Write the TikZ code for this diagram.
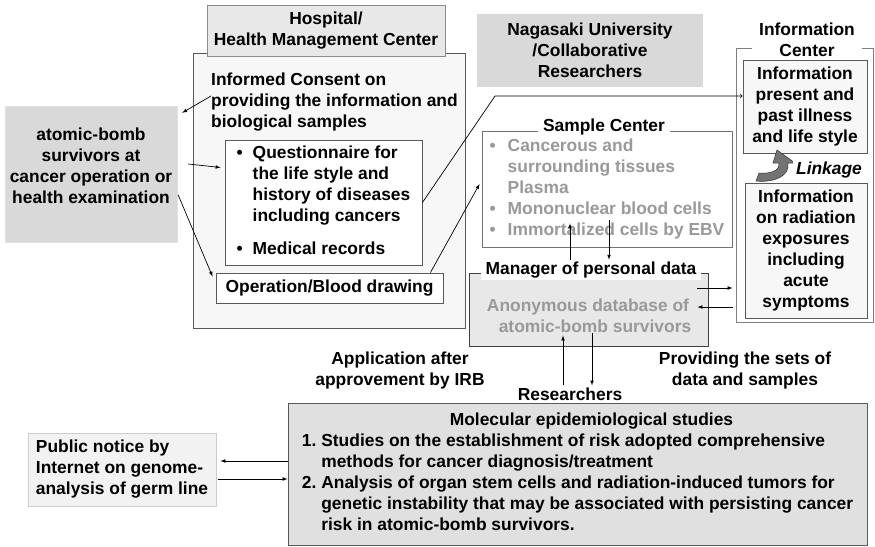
\documentclass[tikz,border=0pt]{standalone}
\usepackage{fontspec}
\setmainfont{Liberation Sans}
\usepackage{xcolor}
\usepackage{tikz}
\usetikzlibrary{arrows}
\definecolor{lightbox}{HTML}{F7F7F7}
\definecolor{midbox}{HTML}{E8E8E8}
\definecolor{darkbox}{HTML}{D9D9D9}
\definecolor{studybox}{HTML}{E0E0E0}
\definecolor{graytext}{HTML}{999999}
\def\fs{\fontsize{17.4}{21}\selectfont\bfseries}
\def\bul{\textbullet}

\tikzset{
  box/.style={draw=black!65,line width=0.9pt,inner sep=0pt},
  lbl/.style={fill=white,inner xsep=5pt,inner ysep=2pt},
  con/.style={-latex,line width=0.7pt}
}

\begin{document}
\begin{tikzpicture}[x=1pt,y=-1pt,font=\fs]
\useasboundingbox (0,0) rectangle (875,546);

\draw[] (329,190.5) node[box,fill=lightbox,minimum width=272,minimum height=275] (hosp) {};
\draw[] (326,30.5) node[box,draw=black!45,fill=midbox,minimum width=238,minimum height=51,align=center] (hosplbl) {Hospital/\\Health Management Center};
\draw[] (211,102) node[anchor=west,inner sep=0pt,align=left] (consent) {Informed Consent on\\providing the information and\\biological samples};
\draw[] (323.5,202.5) node[box,fill=white,minimum width=197,minimum height=125] (quest) {\begin{tabular}{@{}l@{\hspace{10pt}}l@{}}
\bul & Questionnaire for\\
 & the life style and\\
 & history of diseases\\
 & including cancers\\[12pt]
\bul & Medical records
\end{tabular}};
\draw[] (329.5,288) node[box,fill=white,minimum width=227,minimum height=30] (op) {Operation/Blood drawing};

\draw[] (91,174) node[fill=darkbox,draw=black!12,minimum width=172,minimum height=136] (surv) {};
\draw[] (91,166) node[align=center,inner sep=0pt] (survtxt) {atomic-bomb\\survivors at\\cancer operation or\\health examination};

\draw[] (590,50.5) node[fill=darkbox,minimum width=226,minimum height=73,align=center] (naga) {Nagasaki University\\/Collaborative\\Researchers};

\draw[] (607,189) node[box,draw=black!55,fill=white,minimum width=250,minimum height=116,text=graytext] (samp) {\begin{tabular}{@{}l@{\hspace{12pt}}l@{}}
\bul & Cancerous and\\
 & surrounding tissues\\
 & Plasma\\
\bul & Mononuclear blood cells\\
\bul & Immortalized cells by EBV
\end{tabular}};
\draw[] (604,127) node[lbl] (samplbl) {Sample Center};

\draw[] (588.5,309.5) node[box,draw=black!75,fill=midbox,minimum width=239,minimum height=73] (mgr) {};
\draw[] (595,316) node[align=center,inner sep=0pt,text=graytext] (anon) {Anonymous database of\hspace*{14pt}\\atomic-bomb survivors};
\draw[] (591,270) node[lbl] (mgrlbl) {Manager of personal data};

\draw[] (804.5,185) node[box,draw=black!50,fill=white,minimum width=137,minimum height=274] (infoc) {};
\draw[] (807,40) node[lbl,inner xsep=7pt,align=center] (infolbl) {Information\\Center};
\draw[] (805,106.5) node[box,fill=lightbox,minimum width=124,minimum height=93,align=center] (info1) {Information\\present and\\past illness\\and life style};
\draw[] (806,250.5) node[box,fill=lightbox,minimum width=122,minimum height=135,align=center] (info2) {Information\\on radiation\\exposures\\including\\acute\\symptoms};
\draw[draw=black!80,fill=black!55,line width=0.5pt] (756,181) .. controls (774,183) and (790,176) .. (788,163) -- (795,163) -- (777,150) -- (773,163) -- (779,163) .. controls (780,171) and (770,174) .. (759,173) -- cycle;
\draw[] (829,170) node[lbl,inner xsep=3pt,font=\fs\itshape] (link) {Linkage};

\draw[] (577.5,474) node[box,fill=studybox,minimum width=579,minimum height=142] (study) {\begin{tabular}{@{}l@{\hspace{5pt}}l@{}}
\multicolumn{2}{c}{\hspace*{28pt}Molecular epidemiological studies}\\
1. & Studies on the establishment of risk adopted comprehensive\\
 & methods for cancer diagnosis/treatment\\
2. & Analysis of organ stem cells and radiation-induced tumors for\\
 & genetic instability that may be associated with persisting cancer\\
 & risk in atomic-bomb survivors.
\end{tabular}};
\draw[] (570,394) node[lbl] (res) {Researchers};
\draw[] (400,370) node[align=center,inner sep=0pt] (appl) {Application after\\approvement by IRB};
\draw[] (745,370) node[align=center,inner sep=0pt] (prov) {Providing the sets of\\data and samples};
\draw[] (122,469.5) node[box,draw=black!20,fill=black!5,minimum width=188,minimum height=73,align=left] (pub) {Public notice by\\Internet on genome-\\analysis of germ line};

\draw[con] ([yshift=6pt]consent.west) -- ([xshift=5pt,yshift=-7pt]surv.north east);
\draw[con] ([xshift=11pt,yshift=10pt]surv.east) -- ([xshift=-4pt,yshift=35pt]quest.west);
\draw[con] ([xshift=1pt,yshift=-21pt]surv.east) -- ([xshift=-3pt,yshift=-4pt]op.north west);
\coordinate (bend) at (495,96);
\draw[->,line width=0.7pt] (quest.east) -- (bend) -- (bend -| info1.west);
\draw[con] ([xshift=-13pt]op.north east) -- ([xshift=-2pt,yshift=5pt]samp.west);
\draw[con] ([xshift=-21pt]mgrlbl.north) -- ([xshift=-37pt,yshift=24pt]samp.south);
\draw[con] ([xshift=2pt,yshift=27pt]samp.south) -- ([xshift=18pt]mgrlbl.north);
\coordinate (m1) at ([xshift=-11pt,yshift=21.5pt]mgr.east);
\coordinate (m2) at ([xshift=-11pt,yshift=2.5pt]mgr.east);
\draw[con,shorten >=3pt] (m1) -- (m1 -| infoc.west);
\draw[con,shorten <=3pt] (m2 -| infoc.west) -- (m2);
\draw[con] ([xshift=-7pt]res.north) -- ([xshift=-25.5pt,yshift=11pt]mgr.south);
\draw[con] ([xshift=3.5pt,yshift=13pt]mgr.south) -- ([xshift=22pt]res.north);
\coordinate (p1) at ([yshift=13pt]study.west);
\coordinate (p2) at ([xshift=2pt,yshift=-9.5pt]pub.east);
\draw[con,shorten >=4pt] (p1) -- (p1 -| pub.east);
\draw[con] (p2) -- (p2 -| study.west);
\end{tikzpicture}
\end{document}
